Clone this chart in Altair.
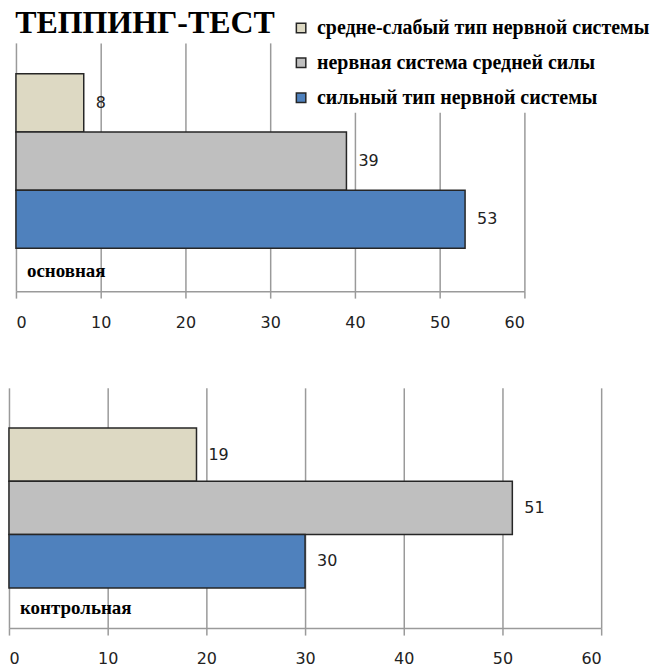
import altair as alt
import pandas as pd

# Series (legend order, top to bottom inside each panel) and their fills
series = [
    "средне-слабый тип нервной системы",
    " нервная система средней силы",
    "сильный тип нервной системы",
]
colors = ["#DDD9C3", "#BFBFBF", "#4F81BD"]

groups = ["основная", "контрольная"]
main_values = [8, 39, 53]
control_values = [19, 51, 30]
x_ticks = [0, 10, 20, 30, 40, 50, 60]

SERIF = "Liberation Serif"
SANS = "DejaVu Sans"


def panel(group, values, width, height, pad_outer, align):
    df = pd.DataFrame({"series": series, "value": values})
    base = alt.Chart(df)
    y_enc = alt.Y(
        "series:N",
        sort=series,
        scale=alt.Scale(paddingInner=0, paddingOuter=pad_outer, align=align),
        axis=None,
    )
    bars = base.mark_bar(stroke="#262626", strokeWidth=1.5).encode(
        x=alt.X(
            "value:Q",
            scale=alt.Scale(domain=[0, 60], nice=False),
            axis=alt.Axis(values=x_ticks, title=None, grid=True),
        ),
        y=y_enc,
        color=alt.Color(
            "series:N",
            sort=series,
            scale=alt.Scale(domain=series, range=colors),
            legend=alt.Legend(title=None),
        ),
    )
    values_text = base.mark_text(
        align="left", baseline="middle", dx=12, font=SANS, fontSize=16, color="#222222"
    ).encode(x="value:Q", y=y_enc, text="value:Q")
    group_text = (
        alt.Chart(pd.DataFrame({"group": [group]}))
        .mark_text(
            align="left", baseline="middle", font=SERIF, fontWeight="bold",
            fontSize=19, color="black",
        )
        .encode(x=alt.value(11), y=alt.value(height - 20), text="group:N")
    )
    return alt.layer(bars, values_text, group_text).properties(width=width, height=height)


top = panel(groups[0], main_values, 510, 249, 0.634, 0.42).properties(
    title=alt.TitleParams(
        "ТЕППИНГ-ТЕСТ", anchor="start", font=SERIF, fontSize=32,
        fontWeight="bold", color="black", offset=3,
    )
)
bottom = panel(groups[1], control_values, 594, 241, 0.755, 0.5)

# narrow blank column that shifts the upper panel right
spacer = (
    alt.Chart(pd.DataFrame({"a": [0]}))
    .mark_text(text="")
    .encode(x=alt.value(0), y=alt.value(0))
    .properties(width=6, height=249)
)

chart = (
    alt.vconcat(alt.hconcat(spacer, top, spacing=0), bottom, spacing=58)
    .properties(padding={"left": 8, "top": 6, "right": 0, "bottom": 0}, background="white")
    .configure_view(stroke=None)
    .configure_axis(
        gridColor="#9A9A9A", gridWidth=1.5, domainColor="#9A9A9A", domainWidth=1.5,
        tickColor="#9A9A9A", tickWidth=1.5, tickSize=7,
        labelFont=SANS, labelFontSize=16, labelColor="#222222", labelPadding=16,
    )
    .configure_legend(
        orient="none", legendX=278, legendY=-30, fillColor="white", padding=5,
        symbolType="square", symbolSize=90, symbolStrokeColor="#262626",
        symbolStrokeWidth=1.5, labelFont=SERIF, labelFontWeight="bold",
        labelFontSize=20, labelColor="black", rowPadding=15, labelLimit=0,
        labelOffset=6,
    )
)

chart.save("out.html", embed_options={"renderer": "svg", "actions": False})
